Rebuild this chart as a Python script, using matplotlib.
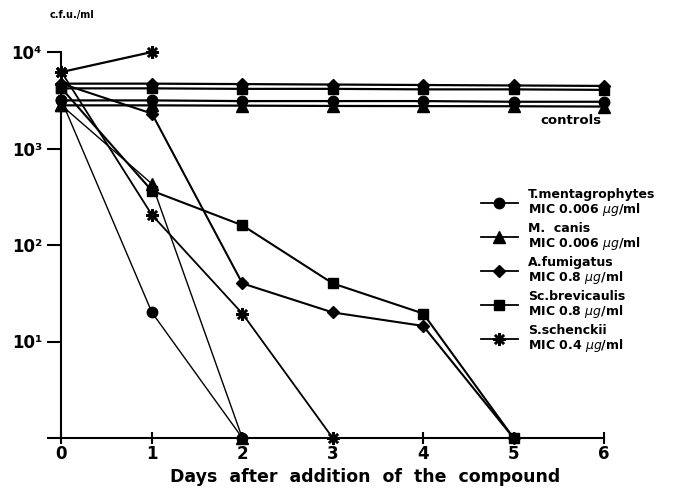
import matplotlib
matplotlib.use("Agg")
import matplotlib.pyplot as plt
from matplotlib.lines import Line2D

plt.rcParams['font.family'] = ['DejaVu Sans']
plt.rcParams['mathtext.fontset'] = 'dejavusans'

# ---- data (c.f.u./ml); 1 = below detection, drawn on the axis floor ----
days_ctrl = [0, 1, 2, 3, 4, 5, 6]
ctrl_fumigatus = [4700, 4700, 4650, 4600, 4550, 4500, 4450]
ctrl_brevicaulis = [4200, 4200, 4150, 4150, 4100, 4100, 4050]
ctrl_mentagrophytes = [3150, 3150, 3100, 3100, 3100, 3050, 3050]
ctrl_canis = [2800, 2800, 2780, 2760, 2750, 2740, 2720]
days_ctrl_schenckii = [0, 1]
ctrl_schenckii = [6200, 10000]

days_mentagrophytes = [0, 1, 2]
treated_mentagrophytes = [3150, 20, 1]
days_canis = [0, 1, 2]
treated_canis = [2800, 430, 1]
days_fumigatus = [0, 1, 2, 3, 4, 5]
treated_fumigatus = [4700, 2300, 40, 20, 14.5, 1]
days_brevicaulis = [0, 1, 2, 3, 4, 5]
treated_brevicaulis = [4200, 365, 160, 40, 19.5, 1]
days_schenckii = [0, 1, 2, 3]
treated_schenckii = [6200, 205, 19.5, 1]

legend_labels = [
    "T.mentagrophytes\nMIC 0.006 $\\mu g$/ml",
    "M.  canis\nMIC 0.006 $\\mu g$/ml",
    "A.fumigatus\nMIC 0.8 $\\mu g$/ml",
    "Sc.brevicaulis\nMIC 0.8 $\\mu g$/ml",
    "S.schenckii\nMIC 0.4 $\\mu g$/ml",
]
x_ticks = [0, 1, 2, 3, 4, 5, 6]
x_ticklabels = ["0", "1", "2", "3", "4", "5", "6"]
y_ticks = [1, 10, 100, 1000, 10000]
y_ticklabels = ["", "10\u00b9", "10\u00b2", "10\u00b3", "10\u2074"]

# ---- figure ----
fig = plt.figure(figsize=(6.73, 4.95), dpi=100)
ax = fig.add_axes([61.5 / 673, 1 - 438 / 495, (604 - 61.5) / 673, (438 - 52) / 495])
ax.set_yscale('log')
ax.set_xlim(0, 6)
ax.set_ylim(1, 10000)

ms = 7.5
star = (8, 2, 0)
styles = {
    'circle': dict(marker='o', ms=ms),
    'triangle': dict(marker='^', ms=ms + 0.5),
    'diamond': dict(marker='D', ms=ms - 1),
    'square': dict(marker='s', ms=ms - 0.5),
    'star': dict(marker=star, ms=ms + 1.5, mew=1.8),
}
common = dict(color='black', mfc='black', mec='black', clip_on=False)

# controls
ax.plot(days_ctrl, ctrl_fumigatus, lw=1.6, **styles['diamond'], **common)
ax.plot(days_ctrl, ctrl_brevicaulis, lw=1.6, **styles['square'], **common)
ax.plot(days_ctrl, ctrl_mentagrophytes, lw=1.6, **styles['circle'], **common)
ax.plot(days_ctrl, ctrl_canis, lw=1.6, **styles['triangle'], **common)
ax.plot(days_ctrl_schenckii, ctrl_schenckii, lw=1.6, **styles['star'], **common)

# treated
ax.plot(days_mentagrophytes, treated_mentagrophytes, lw=1.0, **styles['circle'], **common)
ax.plot(days_canis, treated_canis, lw=1.0, **styles['triangle'], **common)
ax.plot(days_fumigatus, treated_fumigatus, lw=1.5, **styles['diamond'], **common)
ax.plot(days_brevicaulis, treated_brevicaulis, lw=1.5, **styles['square'], **common)
ax.plot(days_schenckii, treated_schenckii, lw=1.3, **styles['star'], **common)

# axes styling
for s in ['top', 'right']:
    ax.spines[s].set_visible(False)
ax.spines['left'].set_linewidth(1.5)
ax.spines['bottom'].set_linewidth(1.5)
ax.set_xticks(x_ticks)
ax.set_xticklabels(x_ticklabels)
ax.set_yticks(y_ticks)
ax.set_yticklabels(y_ticklabels)
ax.minorticks_off()
ax.tick_params(axis='y', direction='out', length=10, width=1.5, labelsize=12, pad=4)
ax.tick_params(axis='x', direction='inout', length=8, width=1.5, labelsize=12, pad=1)
for lab in ax.get_xticklabels() + ax.get_yticklabels():
    lab.set_fontweight('bold')

ax.set_xlabel("Days  after  addition  of  the  compound", fontsize=12.5,
              fontweight='bold', labelpad=0)
ax.xaxis.set_label_coords((365 - 61.5) / (604 - 61.5), -0.078)
fig.text(50 / 673, 1 - 15 / 495, "c.f.u./ml", fontsize=7, fontweight='bold', va='center', ha='left')
ax.text(5.3, 1950, "controls", fontsize=9.5, fontweight='bold', ha='left', va='center')

handles = [
    Line2D([], [], lw=1.3, **styles['circle'], color='black'),
    Line2D([], [], lw=1.3, **styles['triangle'], color='black'),
    Line2D([], [], lw=1.3, **styles['diamond'], color='black'),
    Line2D([], [], lw=1.3, **styles['square'], color='black'),
    Line2D([], [], lw=1.3, **styles['star'], color='black'),
]
leg = fig.legend(handles, legend_labels, loc='upper left',
                 bbox_to_anchor=(472 / 673, 1 - 179 / 495), frameon=False,
                 fontsize=9, handlelength=3.0, handletextpad=0.8,
                 labelspacing=0.32, borderpad=0.2)
for t in leg.get_texts():
    t.set_fontweight('bold')
    t.set_linespacing(1.0)

fig.savefig("out.png", dpi=100)
